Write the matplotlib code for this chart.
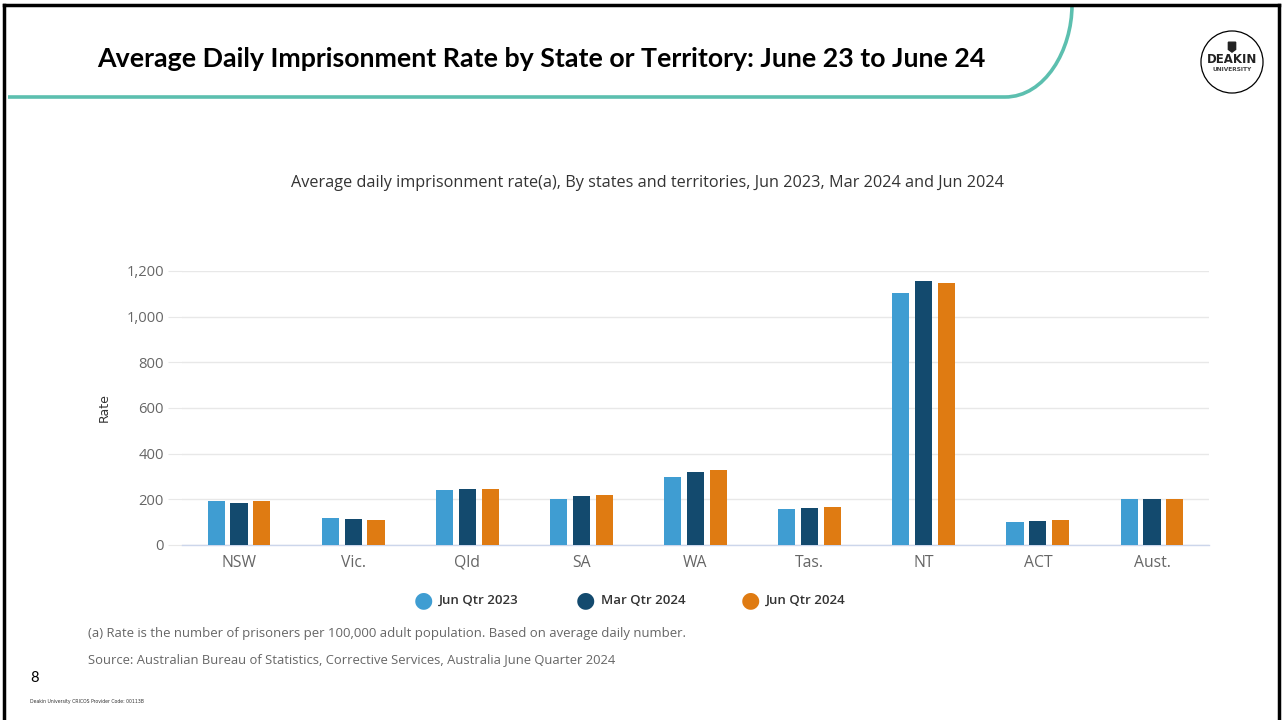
import matplotlib
matplotlib.use("Agg")
import matplotlib.pyplot as plt
import numpy as np
from matplotlib.patches import Circle, Polygon
from matplotlib.lines import Line2D
from matplotlib.path import Path
from matplotlib.patches import PathPatch

categories = ["NSW", "Vic.", "Qld", "SA", "WA", "Tas.", "NT", "ACT", "Aust."]
series_names = ["Jun Qtr 2023", "Mar Qtr 2024", "Jun Qtr 2024"]
jun_2023 = [191, 120, 242, 203, 299, 156, 1105, 99, 203]
mar_2024 = [183, 112, 247, 215, 320, 160, 1156, 104, 203]
jun_2024 = [191, 108, 247, 219, 330, 166, 1148, 108, 203]
y_ticks = [0, 200, 400, 600, 800, 1000, 1200]
y_tick_labels = ["0", "200", "400", "600", "800", "1,000", "1,200"]

colors = ["#3F9DD2", "#134A6E", "#DF7B12"]
W, H = 1282, 720

fig = plt.figure(figsize=(W / 100, H / 100), dpi=100)
fig.patch.set_facecolor("white")

def fx(px):
    return px / W

def fy(py):
    return 1 - py / H

# slide border
for xs, ys, lw in [([4, 1279], [5, 5], 2.5), ([4, 4], [5, 720], 2.5), ([1279, 1279], [5, 720], 2.5)]:
    fig.add_artist(Line2D([fx(x) for x in xs], [fy(y) for y in ys], color="black", lw=lw,
                          transform=fig.transFigure))

# teal header curve
verts = [(fx(8), fy(97)), (fx(1005), fy(97)),
         (fx(1045), fy(97)), (fx(1072), fy(50)), (fx(1072), fy(5))]
codes = [Path.MOVETO, Path.LINETO, Path.CURVE4, Path.CURVE4, Path.CURVE4]
fig.add_artist(PathPatch(Path(verts, codes), fill=False, edgecolor="#5CBFAF", lw=2.6,
                         transform=fig.transFigure))

fig.text(fx(97), fy(59), "Average Daily Imprisonment Rate by State or Territory: June 23 to June 24",
         fontsize=19.3, fontweight="bold", family="Lato", va="center", ha="left", color="black")

# logo
logo_ax = fig.add_axes([fx(1199), fy(95), 66 / W, 66 / H])
logo_ax.set_xlim(-1, 1)
logo_ax.set_ylim(-1, 1)
logo_ax.set_aspect("equal")
logo_ax.axis("off")
logo_ax.add_patch(Circle((0, 0), 0.94, fill=False, edgecolor="black", lw=0.9))
logo_ax.add_patch(Polygon([(-0.11, 0.6), (0.11, 0.6), (0.11, 0.38), (0, 0.3), (-0.11, 0.38)],
                          closed=True, color="#222222"))
logo_ax.text(0, 0.08, "DEAKIN", ha="center", va="center", fontsize=8.5, fontweight="bold",
             family="DejaVu Sans Condensed", color="#222222")
logo_ax.text(0, -0.22, "UNIVERSITY", ha="center", va="center", fontsize=4.2, fontweight="bold",
             family="DejaVu Sans Condensed", color="#444444")

# chart
ax = fig.add_axes([fx(182), fy(545), (1209 - 182) / W, (545 - 271) / H])
x = np.arange(len(categories))
bw = 0.15
step = 0.2
for i, (vals, c) in enumerate(zip([jun_2023, mar_2024, jun_2024], colors)):
    ax.bar(x + (i - 1) * step, vals, width=bw, color=c, zorder=3, label=series_names[i])

ax.set_xlim(-0.5, len(categories) - 0.5)
ax.set_ylim(0, 1200)
ax.set_yticks(y_ticks)
ax.set_yticklabels(y_tick_labels)
ax.set_xticks(x)
ax.set_xticklabels(categories)
for s in ["top", "right", "left"]:
    ax.spines[s].set_visible(False)
ax.spines["bottom"].set_color("#CCD6EB")
ax.spines["bottom"].set_linewidth(1.0)
ax.grid(axis="y", color="#E8E8E8", lw=1.0, zorder=0)
ax.tick_params(axis="y", length=10, color="#E8E8E8", labelsize=10.6, labelcolor="#666666", pad=3)
ax.tick_params(axis="x", length=0, labelsize=11.3, labelcolor="#666666", pad=7)
for lab in ax.get_xticklabels() + ax.get_yticklabels():
    lab.set_family("Open Sans")
ax.set_ylabel("Rate", fontsize=9, color="#333333", family="Liberation Sans Narrow")
ax.yaxis.set_label_coords((111 - 182) / 1027, 0.5)

fig.text(fx(647), fy(183),
         "Average daily imprisonment rate(a), By states and territories, Jun 2023, Mar 2024 and Jun 2024",
         ha="center", va="center", fontsize=11.7, family="Open Sans", color="#333333")

# legend
leg_x = [423, 585, 750]
for lx, c, name in zip(leg_x, colors, series_names):
    fig.text(fx(lx), fy(600), "\u25CF", ha="center", va="center", fontsize=16, color=c,
             family="DejaVu Sans")
    fig.text(fx(lx + 16), fy(600), name, ha="left", va="center", fontsize=9.5, fontweight="semibold",
             family="Open Sans", color="#333333")

fig.text(fx(88), fy(633),
         "(a) Rate is the number of prisoners per 100,000 adult population. Based on average daily number.",
         ha="left", va="center", fontsize=9.45, family="Open Sans", color="#666666")
fig.text(fx(88), fy(660),
         "Source: Australian Bureau of Statistics, Corrective Services, Australia June Quarter 2024",
         ha="left", va="center", fontsize=9.4, family="Open Sans", color="#666666")
fig.text(fx(30), fy(678), "8", ha="left", va="center", fontsize=10.5, family="Lato", color="black")
fig.text(fx(30), fy(702), "Deakin University CRICOS Provider Code: 00113B", ha="left", va="center",
         fontsize=3.3, family="Liberation Sans Narrow", color="#333333")

fig.savefig("out.png", dpi=100, facecolor="white")
